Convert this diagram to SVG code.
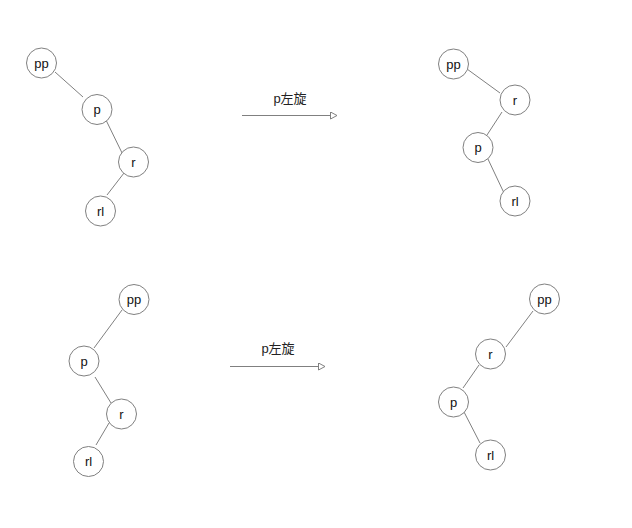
<svg xmlns="http://www.w3.org/2000/svg" width="632" height="528" viewBox="0 0 632 528">
<defs>
<style>
.n circle{fill:#ffffff;stroke:#808080;stroke-width:1}
.n text,.lbl{font-family:"Liberation Sans","Noto Sans CJK SC",sans-serif;font-size:13px;fill:#111;text-anchor:middle}
.lbl{font-size:13px;fill:#222}
.e line{stroke:#808080;stroke-width:1}
.arr{stroke:#808080;stroke-width:1;marker-end:url(#ah)}
</style>
<marker id="ah" markerWidth="10" markerHeight="10" refX="7" refY="4" orient="auto" markerUnits="userSpaceOnUse">
<path d="M0.5,0.5 L7,4 L0.5,7.5 Z" fill="#fff" stroke="#808080" stroke-width="1"/>
</marker>
</defs>
<rect width="632" height="528" fill="#fff"/>
<g id="connectors" class="e">
<line x1="55" y1="72" x2="83" y2="97"/>
<line x1="105" y1="118" x2="124" y2="157"/>
<line x1="124" y1="173" x2="107" y2="195"/>
<line x1="467" y1="69" x2="500" y2="93"/>
<line x1="502" y1="112" x2="487" y2="135"/>
<line x1="487" y1="157" x2="504" y2="193"/>
<line x1="122" y1="310" x2="94" y2="348"/>
<line x1="95" y1="377" x2="111" y2="403"/>
<line x1="109" y1="423" x2="96" y2="445"/>
<line x1="533" y1="311" x2="506" y2="347"/>
<line x1="479" y1="365" x2="463" y2="388"/>
<line x1="463" y1="410" x2="480" y2="443"/>
<line class="arr" x1="242" y1="115.5" x2="337" y2="115.5"/>
<line class="arr" x1="230" y1="366.5" x2="325" y2="366.5"/>
</g>
<g id="label1"><text class="lbl" x="290" y="103">p左旋</text></g>
<g id="label2"><text class="lbl" x="278" y="353">p左旋</text></g>
<g id="t1_pp" class="n"><circle cx="41.5" cy="63" r="15"/><text x="41.5" y="67.5">pp</text></g>
<g id="t1_p" class="n"><circle cx="97" cy="109.5" r="15"/><text x="97" y="114">p</text></g>
<g id="t1_r" class="n"><circle cx="133.5" cy="162" r="15"/><text x="133.5" y="166.5">r</text></g>
<g id="t1_rl" class="n"><circle cx="100.5" cy="211" r="15"/><text x="100.5" y="215.5">rl</text></g>
<g id="t2_pp" class="n"><circle cx="453.5" cy="64" r="15"/><text x="453.5" y="68.5">pp</text></g>
<g id="t2_r" class="n"><circle cx="515" cy="100" r="15"/><text x="515" y="104.5">r</text></g>
<g id="t2_p" class="n"><circle cx="478" cy="147.5" r="15"/><text x="478" y="152">p</text></g>
<g id="t2_rl" class="n"><circle cx="515" cy="201" r="15"/><text x="515" y="205.5">rl</text></g>
<g id="t3_pp" class="n"><circle cx="134" cy="299.5" r="15"/><text x="134" y="304">pp</text></g>
<g id="t3_p" class="n"><circle cx="84" cy="361" r="15"/><text x="84" y="365.5">p</text></g>
<g id="t3_r" class="n"><circle cx="121.5" cy="414" r="15"/><text x="121.5" y="418.5">r</text></g>
<g id="t3_rl" class="n"><circle cx="88.5" cy="461.5" r="15"/><text x="88.5" y="466">rl</text></g>
<g id="t4_pp" class="n"><circle cx="544.5" cy="299" r="15"/><text x="544.5" y="303.5">pp</text></g>
<g id="t4_r" class="n"><circle cx="490.5" cy="354" r="15"/><text x="490.5" y="358.5">r</text></g>
<g id="t4_p" class="n"><circle cx="453.5" cy="402" r="15"/><text x="453.5" y="406.5">p</text></g>
<g id="t4_rl" class="n"><circle cx="490.5" cy="455" r="15"/><text x="490.5" y="459.5">rl</text></g>
</svg>
